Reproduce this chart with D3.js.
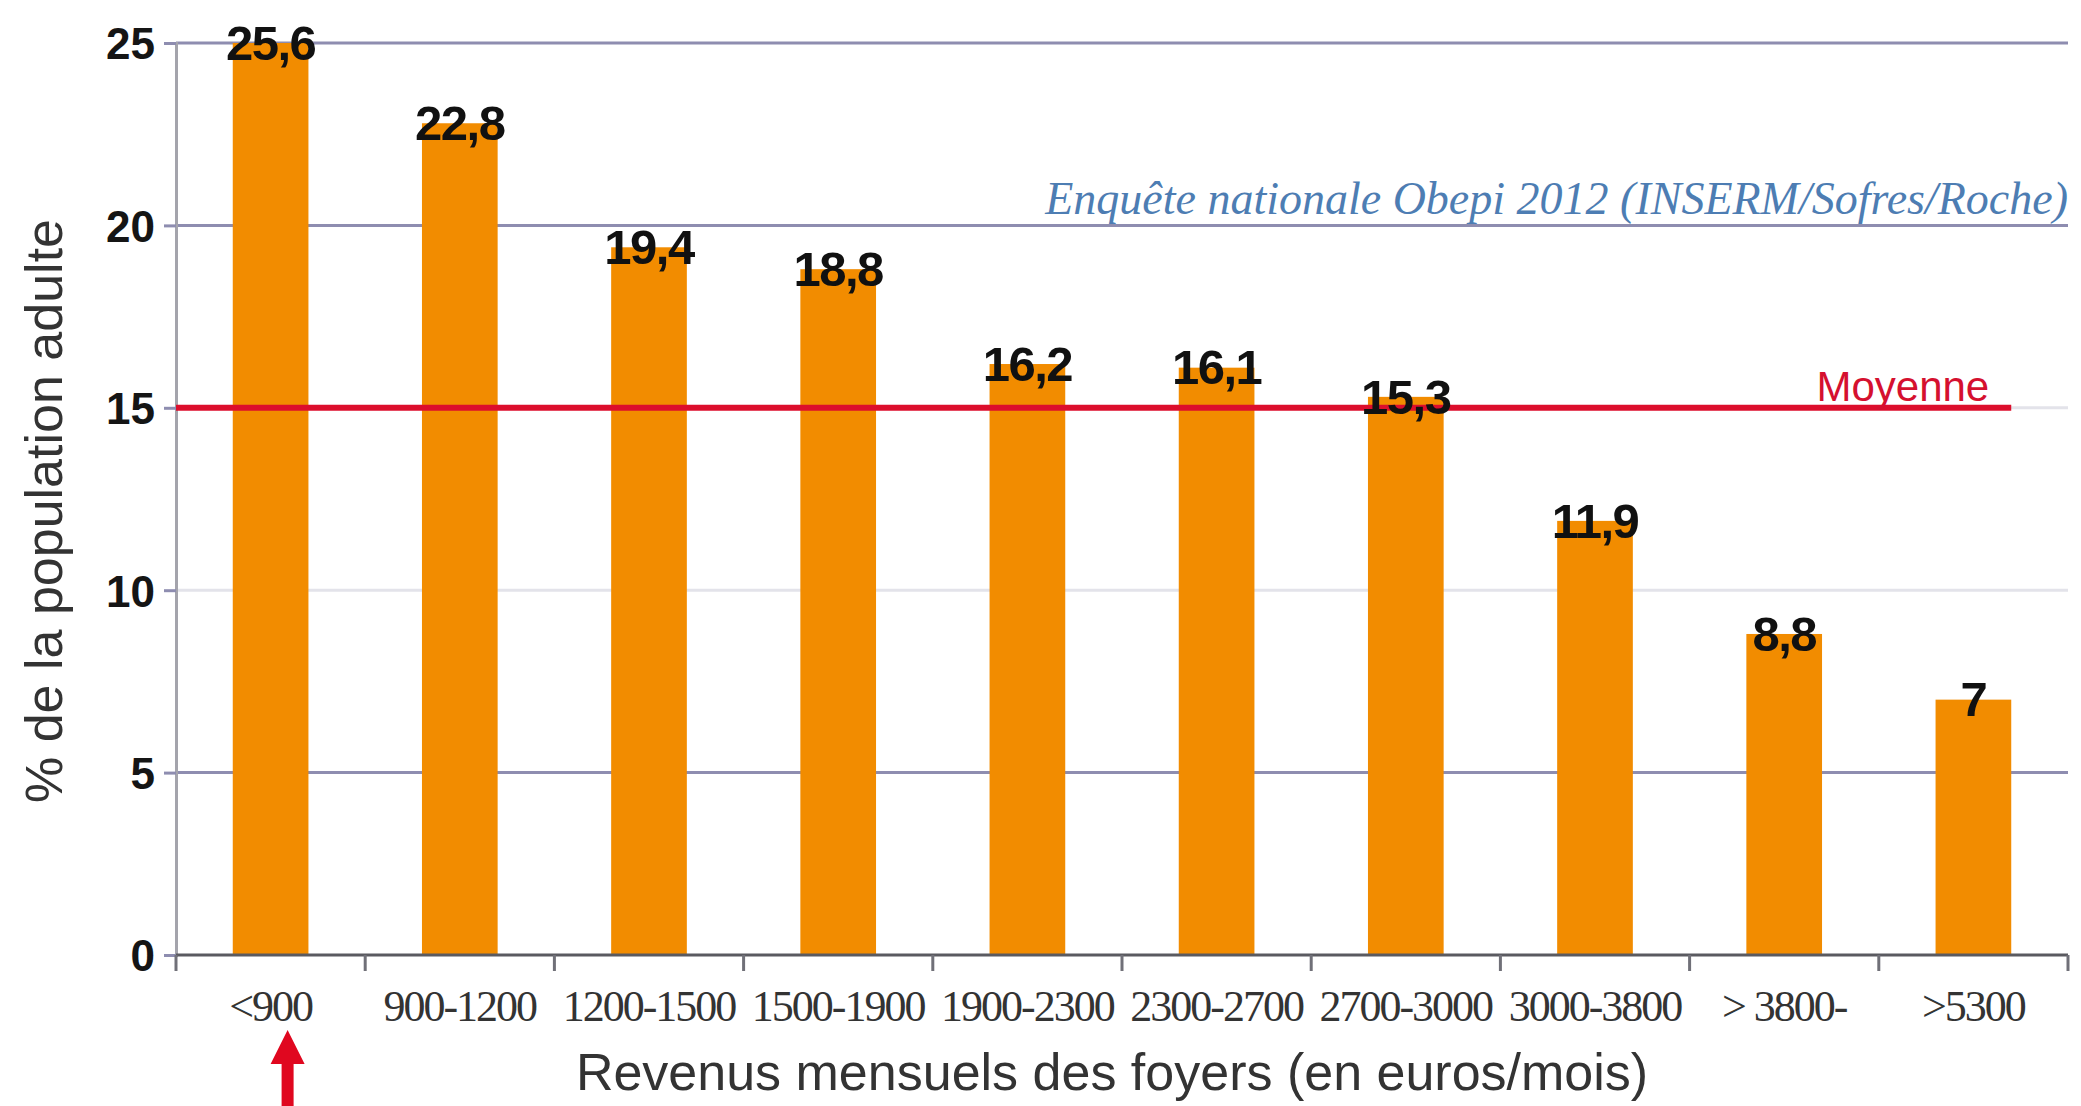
<!DOCTYPE html>
<html>
<head>
<meta charset="utf-8">
<style>
    body { margin: 0; background: #ffffff; }
    svg { display: block; }
    .ytick text { font-family: "Liberation Sans", Arial, sans-serif; font-weight: bold; font-size: 44px; fill: #151515; }
    .xtick { font-family: "Liberation Serif", "Times New Roman", serif; font-size: 44px; fill: #333; letter-spacing: -2px; }
    .value { font-family: "Liberation Sans", Arial, sans-serif; font-weight: bold; font-size: 49px; fill: #111; letter-spacing: -1.5px; }
    .title { font-family: "Liberation Sans", Arial, sans-serif; font-size: 52px; fill: #333; }
</style>
</head>
<body>
<div id="chart"></div>
<script src="https://d3js.org/d3.v7.min.js"></script>
<script>
    // data
    var categories = ["<900", "900-1200", "1200-1500", "1500-1900", "1900-2300",
                      "2300-2700", "2700-3000", "3000-3800", "> 3800-", ">5300"];
    var values = [25.6, 22.8, 19.4, 18.8, 16.2, 16.1, 15.3, 11.9, 8.8, 7];
    var yTicks = [0, 5, 10, 15, 20, 25];
    var meanValue = 15;
    var meanLabel = "Moyenne";
    var sourceNote = "Enquête nationale Obepi 2012 (INSERM/Sofres/Roche)";
    var xTitle = "Revenus mensuels des foyers (en euros/mois)";
    var yTitle = "% de la population adulte";
    var highlighted = "<900";

    var width = 2081, height = 1106;
    var plotLeft = 176, plotRight = 2068, plotTop = 43, plotBottom = 955;

    var fr = d3.formatLocale({decimal: ",", thousands: " ", grouping: [3], currency: ["", " €"]});
    var fmt = fr.format("~f");

    var svg = d3.select("#chart").append("svg")
        .attr("width", width)
        .attr("height", height);

    var x = d3.scaleBand()
        .domain(categories)
        .range([plotLeft, plotRight])
        .paddingInner(0.6)
        .paddingOuter(0.3);

    var y = d3.scaleLinear()
        .domain([0, 25])
        .range([plotBottom, plotTop])
        .clamp(true);

    // gridlines
    svg.append("g").selectAll("line")
        .data(yTicks.filter(function (d) { return d > 0; }))
        .enter().append("line")
        .attr("x1", plotLeft).attr("x2", plotRight)
        .attr("y1", function (d) { return y(d); })
        .attr("y2", function (d) { return y(d); })
        .attr("stroke", function (d) { return (d === 10 || d === 15) ? "#e3e3ea" : "#8e8db0"; })
        .attr("stroke-width", 3);

    // y axis
    var yAxis = svg.append("g")
        .attr("class", "ytick")
        .attr("transform", "translate(" + plotLeft + ",0)")
        .call(d3.axisLeft(y).tickValues(yTicks).tickSize(12).tickPadding(9));
    yAxis.select(".domain").attr("stroke", "#a4a4ac").attr("stroke-width", 3);
    yAxis.selectAll(".tick line").attr("stroke", "#8e8db0").attr("stroke-width", 3);
    yAxis.selectAll(".tick text").attr("dy", "0.36em");

    // bars
    svg.append("g").selectAll("rect")
        .data(values)
        .enter().append("rect")
        .attr("x", function (d, i) { return x(categories[i]); })
        .attr("y", function (d) { return y(d); })
        .attr("width", x.bandwidth())
        .attr("height", function (d) { return plotBottom - y(d); })
        .attr("fill", "#f28c00");

    // x axis line and boundary ticks
    var x0 = x(categories[0]) - x.step() * x.paddingOuter();
    svg.append("line")
        .attr("x1", plotLeft).attr("x2", plotRight)
        .attr("y1", plotBottom).attr("y2", plotBottom)
        .attr("stroke", "#5a5a60").attr("stroke-width", 3);
    svg.append("g").selectAll("line")
        .data(d3.range(categories.length + 1))
        .enter().append("line")
        .attr("x1", function (i) { return x0 + i * x.step(); })
        .attr("x2", function (i) { return x0 + i * x.step(); })
        .attr("y1", plotBottom).attr("y2", plotBottom + 16)
        .attr("stroke", "#707078").attr("stroke-width", 3);

    // mean line
    var lastBarEnd = x(categories[categories.length - 1]) + x.bandwidth();
    svg.append("line")
        .attr("x1", plotLeft).attr("x2", lastBarEnd)
        .attr("y1", y(meanValue)).attr("y2", y(meanValue))
        .attr("stroke", "#dc0e2c").attr("stroke-width", 6);
    svg.append("text")
        .attr("x", lastBarEnd - 22)
        .attr("y", y(meanValue) - 7)
        .attr("text-anchor", "end")
        .style("font-family", "Liberation Sans, Arial, sans-serif")
        .style("font-size", "42px")
        .style("fill", "#d5102f")
        .text(meanLabel);

    // value labels
    svg.append("g").selectAll("text")
        .data(values)
        .enter().append("text")
        .attr("class", "value")
        .attr("x", function (d, i) { return x(categories[i]) + x.bandwidth() / 2; })
        .attr("y", function (d) { return y(d); })
        .attr("dy", "0.34em")
        .attr("text-anchor", "middle")
        .text(function (d) { return fmt(d); });

    // category labels
    svg.append("g").selectAll("text")
        .data(categories)
        .enter().append("text")
        .attr("class", "xtick")
        .attr("x", function (d) { return x(d) + x.bandwidth() / 2; })
        .attr("y", 1021)
        .attr("text-anchor", "middle")
        .text(function (d) { return d; });

    // source note
    svg.append("text")
        .attr("x", plotRight)
        .attr("y", 214)
        .attr("text-anchor", "end")
        .style("font-family", "Liberation Serif, Times New Roman, serif")
        .style("font-style", "italic")
        .style("font-size", "46px")
        .style("fill", "#4d7db3")
        .text(sourceNote);

    // axis titles
    svg.append("text")
        .attr("class", "title")
        .attr("x", 1112)
        .attr("y", 1090)
        .attr("text-anchor", "middle")
        .text(xTitle);

    svg.append("text")
        .attr("class", "title")
        .attr("transform", "translate(62," + ((plotTop + plotBottom) / 2 + 12) + ") rotate(-90)")
        .attr("text-anchor", "middle")
        .text(yTitle);

    // red arrow under the lowest income class
    var ax = x(highlighted) + x.bandwidth() / 2 + 17;
    var arrow = d3.path();
    arrow.moveTo(ax, 1030);
    arrow.lineTo(ax + 17, 1064);
    arrow.lineTo(ax + 6, 1064);
    arrow.lineTo(ax + 6, height);
    arrow.lineTo(ax - 6, height);
    arrow.lineTo(ax - 6, 1064);
    arrow.lineTo(ax - 17, 1064);
    arrow.closePath();
    svg.append("path")
        .attr("d", arrow.toString())
        .attr("fill", "#e0071f");
</script>
</body>
</html>
